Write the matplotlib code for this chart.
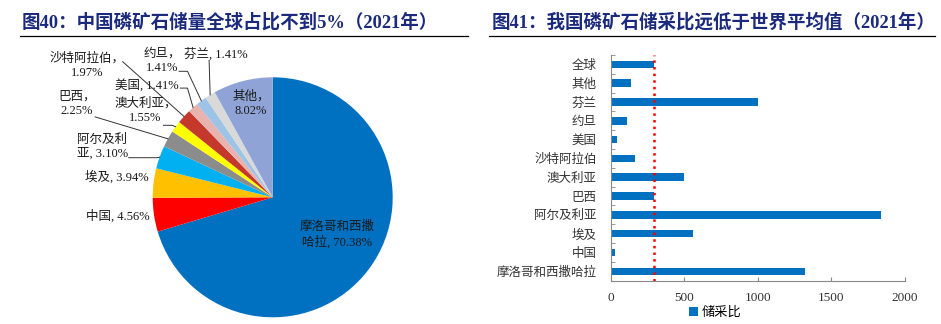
import numpy as np
import matplotlib
matplotlib.use("Agg")
import matplotlib.pyplot as plt
from matplotlib.lines import Line2D

plt.rcParams["font.family"] = ["Liberation Serif", "Noto Sans CJK SC"]

# --- 2021 phosphate rock reserves, share of world total (%) ---
reserve_names = ["摩洛哥和西撒哈拉", "中国", "埃及", "阿尔及利亚", "巴西", "澳大利亚",
                 "沙特阿拉伯", "美国", "约旦", "芬兰", "其他"]
reserve_share = [70.38, 4.56, 3.94, 3.10, 2.25, 1.55, 1.97, 1.41, 1.41, 1.41, 8.02]
reserve_colors = ["#0070C0", "#FF0000", "#FFC000", "#00B0F0", "#8C8C8C", "#FFFF00",
                  "#C5392C", "#E8B2AE", "#9DC3E6", "#D9D9D9", "#8FA3D6"]

# --- 2021 reserve-to-production ratio ---
ratio_names = ["摩洛哥和西撒哈拉", "中国", "埃及", "阿尔及利亚", "巴西", "澳大利亚",
               "沙特阿拉伯", "美国", "约旦", "芬兰", "其他", "全球"]
ratio_values = [1320, 32, 560, 1839, 291, 499, 165, 45, 108, 1003, 136, 296]
ratio_ticks = [0, 500, 1000, 1500, 2000]

TITLE_COLOR = "#1C2A7D"
W, H = 941, 324

# pie label layout: text position (radius units), alignment, line-break style,
# leader polyline start/elbow points (end is put on the wedge edge)
label_layout = {
    "摩洛哥和西撒哈拉": ((0.54, -0.31), "center", 6, None),
    "中国": ((-1.29, -0.16), "center", "one", None),
    "埃及": ((-1.30, 0.17), "center", "one", None),
    "阿尔及利亚": ((-1.63, 0.42), "left", 4, [(-1.20, 0.33), (-0.96, 0.33)]),
    "巴西": ((-1.63, 0.78), "center", "two", [(-1.48, 0.67)]),
    "澳大利亚": ((-1.06, 0.72), "center", "two", [(-0.91, 0.60), (-0.84, 0.60)]),
    "沙特阿拉伯": ((-1.55, 1.10), "center", "two", [(-1.25, 1.13)]),
    "美国": ((-1.05, 0.93), "center", "one", [(-0.77, 0.91), (-0.71, 0.91)]),
    "约旦": ((-0.92, 1.14), "center", "two", [(-0.78, 1.05), (-0.71, 1.05)]),
    "芬兰": ((-0.47, 1.19), "center", "one", [(-0.53, 1.14)]),
    "其他": ((-0.18, 0.78), "center", "two", None),
}


def pie_label(name, value, style):
    if style == "one":
        return f"{name}, {value:.2f}%"
    if style == "two":
        return f"{name}，\n{value:.2f}%"
    return f"{name[:style]}\n{name[style:]}, {value:.2f}%"


fig = plt.figure(figsize=(W / 100, H / 100), dpi=100)

# ---------------- left panel: pie ----------------
cx, cy, r = 272.7, 197.3, 120.0
ax1 = fig.add_axes([0, 0, 470 / W, (H - 45) / H])
wedges, _ = ax1.pie(reserve_share, colors=reserve_colors, startangle=90,
                    counterclock=False, radius=1.0,
                    wedgeprops=dict(linewidth=0))
ax1.set_xlim(-cx / r, (470 - cx) / r)
ax1.set_ylim((cy - H) / r, (cy - 45) / r)
ax1.set_aspect("auto")
ax1.axis("off")

for w, name, val in zip(wedges, reserve_names, reserve_share):
    (tx, ty), ha, style, leader = label_layout[name]
    ax1.text(tx, ty, pie_label(name, val, style), ha=ha, va="center",
             fontsize=9, color="#1a1a1a", linespacing=1.25,
             multialignment="center" if ha == "center" else "left")
    if leader:
        mid = np.deg2rad((w.theta1 + w.theta2) / 2)
        pts = leader + [(np.cos(mid), np.sin(mid))]
        xs, ys = zip(*pts)
        ax1.plot(xs, ys, color="#333333", lw=0.7)

# ---------------- right panel: bars ----------------
ax2 = fig.add_axes([610.7 / W, (H - 280.7) / H, 294.3 / W, 225.7 / H])
ypos = np.arange(len(ratio_names))
bars = ax2.barh(ypos, ratio_values, height=0.4, color="#0070C0", label="储采比")
ax2.axvline(ratio_values[-1], color="#FF0000", ls=":", lw=1.8)
ax2.set_xlim(0, 2000)
ax2.set_ylim(-0.5, len(ratio_names) - 0.5)
ax2.set_xticks(ratio_ticks)
ax2.set_xticklabels([str(t) for t in ratio_ticks], fontsize=9.5)
ax2.set_yticks(ypos)
ax2.set_yticklabels(ratio_names, fontsize=9)
ax2.set_yticks(np.arange(-0.5, len(ratio_names)), minor=True)
ax2.tick_params(axis="y", which="major", length=0, pad=10, colors="#333333")
ax2.tick_params(axis="y", which="minor", direction="in", length=3, color="#888888")
ax2.tick_params(axis="x", direction="in", length=3, color="#888888", pad=8,
                labelcolor="#333333")
for side in ("top", "right"):
    ax2.spines[side].set_visible(False)
for side in ("left", "bottom"):
    ax2.spines[side].set_color("#888888")
    ax2.spines[side].set_linewidth(0.8)

fig.legend(handles=[bars], labels=["储采比"], loc="center",
           bbox_to_anchor=(715 / W, 1 - 313 / H), frameon=False, fontsize=9.5,
           handlelength=0.7, handleheight=0.7, handletextpad=0.3)

# ---------------- titles ----------------
fig.text(22 / W, 1 - 22 / H, "图40：中国磷矿石储量全球占比不到5%（2021年）",
         fontsize=13.3, fontweight="bold", color=TITLE_COLOR, va="center", ha="left")
fig.text(492 / W, 1 - 22 / H, "图41：我国磷矿石储采比远低于世界平均值（2021年）",
         fontsize=13.3, fontweight="bold", color=TITLE_COLOR, va="center", ha="left")
fig.add_artist(Line2D([20 / W, 468 / W], [1 - 36 / H, 1 - 36 / H], color="black", lw=0.9))
fig.add_artist(Line2D([489 / W, 935 / W], [1 - 36 / H, 1 - 36 / H], color="black", lw=0.9))

fig.savefig("out.png", dpi=100)
